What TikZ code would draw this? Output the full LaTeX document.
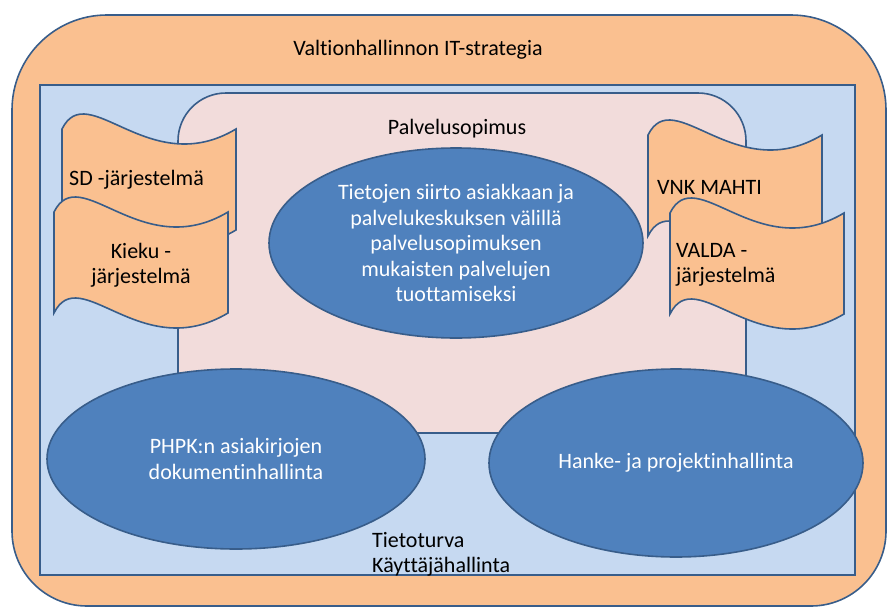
\documentclass[tikz,border=0pt]{standalone}
\usepackage{fontspec}
\setmainfont{Carlito}[Ligatures=NoCommon]
\usetikzlibrary{shapes.geometric}

\definecolor{frame}{HTML}{385D8A}
\definecolor{peach}{HTML}{FAC090}
\definecolor{sky}{HTML}{C6D9F1}
\definecolor{blush}{HTML}{F2DCDB}
\definecolor{steel}{HTML}{4F81BD}

\tikzset{
  edge/.style={draw=frame, line width=1.6pt},
  txt/.style={font=\fontsize{22}{25.5}\selectfont, text=black, inner sep=0pt},
  wavebox/.style={edge, fill=peach},
  bubble/.style={edge, fill=steel, ellipse, inner sep=0pt, align=center,
    font=\fontsize{22}{25.5}\selectfont, text=white},
}

% a wavy document sheet, top-left corner at (#1,#2)
\newcommand\wavesheet[2]{%
  \begin{scope}[shift={(#1,#2)}]
    \path[wavebox] (0,0) .. controls (26,-52) and (87,52) .. (174,0)
      -- (174,101) .. controls (87,153) and (26,49) .. (0,101) -- cycle;
  \end{scope}}

\begin{document}
\begin{tikzpicture}[x=1pt, y=-1pt]
  \useasboundingbox (0,0) rectangle (887,608);

  % outer strategy frame
  \path[edge, fill=peach] (12,300) [rounded corners=95pt] -- (12,15) -- (886,15)
    -- (886,300) [rounded corners=75pt] -- (886,606) -- (12,606) -- cycle;
  \node[txt] (strategy) at (418,50) {Valtionhallinnon IT-strategia};

  % security / user management area
  \path[edge, fill=sky] (40,85) rectangle (855,575);
  \node[txt, align=left, anchor=west] (security) at (372,554.5)
    {Tietoturva\\Käyttäjähallinta};

  % service agreement area
  \path[edge, fill=blush] (178,433) [rounded corners=48pt] -- (178,93) -- (746,93)
    -- (746,250) [sharp corners] -- (746,433) -- cycle;
  \node[txt] (agreement) at (457,129) {Palvelusopimus};

  % connected systems
  \wavesheet{62}{129}
  \node[txt, anchor=west] (sd) at (69,180) {SD -järjestelmä};
  \wavesheet{54}{212}
  \node[txt, align=center] (kieku) at (141,265) {Kieku -\\järjestelmä};

  \wavesheet{648}{135}
  \node[txt, anchor=west] (vnk) at (657,187) {VNK MAHTI};
  \wavesheet{670}{213}
  \node[txt, align=left, anchor=west] (valda) at (676,265) {VALDA -\\järjestelmä};

  % services
  \node[bubble, minimum width=374pt, minimum height=190pt] (transfer) at (456,243)
    {Tietojen siirto asiakkaan ja\\palvelukeskuksen välillä\\palvelusopimuksen\\mukaisten palvelujen\\tuottamiseksi};
  \node[bubble, minimum width=378pt, minimum height=180pt] (docs) at (236,459)
    {PHPK:n asiakirjojen\\dokumentinhallinta};
  \node[bubble, minimum width=374pt, minimum height=188pt] (projects) at (676,463)
    {Hanke- ja projektinhallinta};
\end{tikzpicture}
\end{document}
